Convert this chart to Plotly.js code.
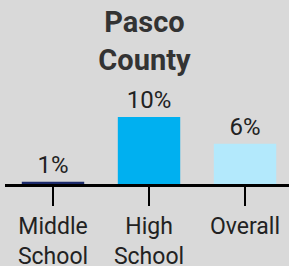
<!DOCTYPE html>
<html><head><meta charset="utf-8">
<script src="https://cdn.plot.ly/plotly-3.0.1.min.js"></script>
<style>html,body{margin:0;padding:0;background:#d9d9d9;}#c{width:289px;height:266px;}</style>
</head><body><div id="c"></div>
<script>
const categories = ["Middle<br>School", "High<br>School", "Overall"];
const values = [0.35, 10, 6];
const labels = ["1%", "10%", "6%"];
const colors = ["#1b2a6b", "#00b0f0", "#b3e9fc"];

Plotly.newPlot("c", [{
  type: "bar",
  x: categories,
  y: values,
  text: labels,
  textposition: "outside",
  cliponaxis: false,
  textfont: {family: "Roboto", size: 24, color: "#222"},
  marker: {color: colors},
  width: 0.65,
  hoverinfo: "none"
}], {
  width: 289, height: 266,
  paper_bgcolor: "#d9d9d9", plot_bgcolor: "#d9d9d9",
  margin: {l: 5, r: 0, t: 80, b: 82},
  showlegend: false,
  title: {text: "<b>Pasco<br>County</b>", font: {family: "Roboto", size: 29, color: "#333"},
          x: 0.5, xanchor: "center", y: 0.878, yanchor: "top", yref: "container"},
  xaxis: {range: [-0.5, 2.458], showline: true, linecolor: "#000", linewidth: 3,
          ticks: "outside", ticklen: 19, tickwidth: 2, tickcolor: "#000",
          tickfont: {family: "Roboto", size: 23, color: "#222"}, fixedrange: true},
  yaxis: {range: [0, 15.5], visible: false, showgrid: false, zeroline: false, fixedrange: true},
  font: {family: "Roboto"}
}, {staticPlot: true});
</script></body></html>
